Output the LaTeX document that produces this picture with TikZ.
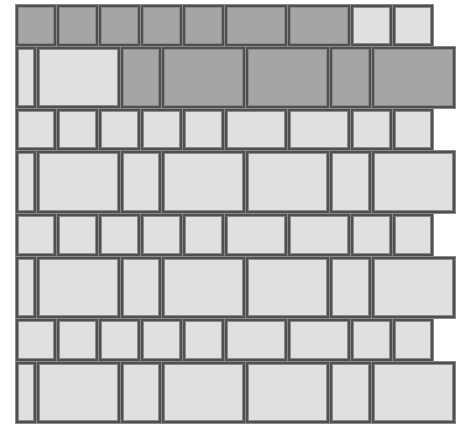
\documentclass[tikz,border=0pt]{standalone}
\usepackage{xcolor}
\definecolor{darkfill}{HTML}{A4A5A7}
\definecolor{lightfill}{HTML}{DFE0E2}
\definecolor{bordc}{HTML}{505052}
\definecolor{edgec}{HTML}{8A8A8C}
\newcommand\mytile[5]{%
  \fill[#5] (#1,#3) rectangle (#2,#4);
  \draw[bordc, line width=2.7pt] (#1+1.6,#3+1.6) rectangle (#2-1.6,#4-1.6);
  \draw[edgec, line width=0.5pt] (#1+0.25,#3+0.25) rectangle (#2-0.25,#4-0.25);
  \draw[edgec, line width=0.5pt] (#1+3.1,#3+3.1) rectangle (#2-3.1,#4-3.1);
}
\begin{document}
\begin{tikzpicture}[x=1pt,y=-1pt]
\useasboundingbox (0,0) rectangle (463,426);
% short rows
\foreach \ya/\yb in {108/150,213/256,318/361}{
  \foreach \xa/\xb in {15/56,56/98,98/140,140/182,182/224,224/287,287/350,350/392,392/433}{
    \mytile{\xa}{\xb}{\ya}{\yb}{lightfill}
  }
}
\foreach \xa/\xb in {15/56,56/98,98/140,140/182,182/224,224/287,287/350}{
  \mytile{\xa}{\xb}{4}{46}{darkfill}
}
\foreach \xa/\xb in {350/392,392/433}{
  \mytile{\xa}{\xb}{4}{46}{lightfill}
}
% tall rows
\foreach \ya/\yb in {150/213,256/318,361/423}{
  \foreach \xa/\xb in {15/36,36/120,120/161,161/245,245/329,329/371,371/455}{
    \mytile{\xa}{\xb}{\ya}{\yb}{lightfill}
  }
}
\foreach \xa/\xb in {15/36,36/120}{
  \mytile{\xa}{\xb}{46}{108}{lightfill}
}
\foreach \xa/\xb in {120/161,161/245,245/329,329/371,371/455}{
  \mytile{\xa}{\xb}{46}{108}{darkfill}
}
\end{tikzpicture}
\end{document}
